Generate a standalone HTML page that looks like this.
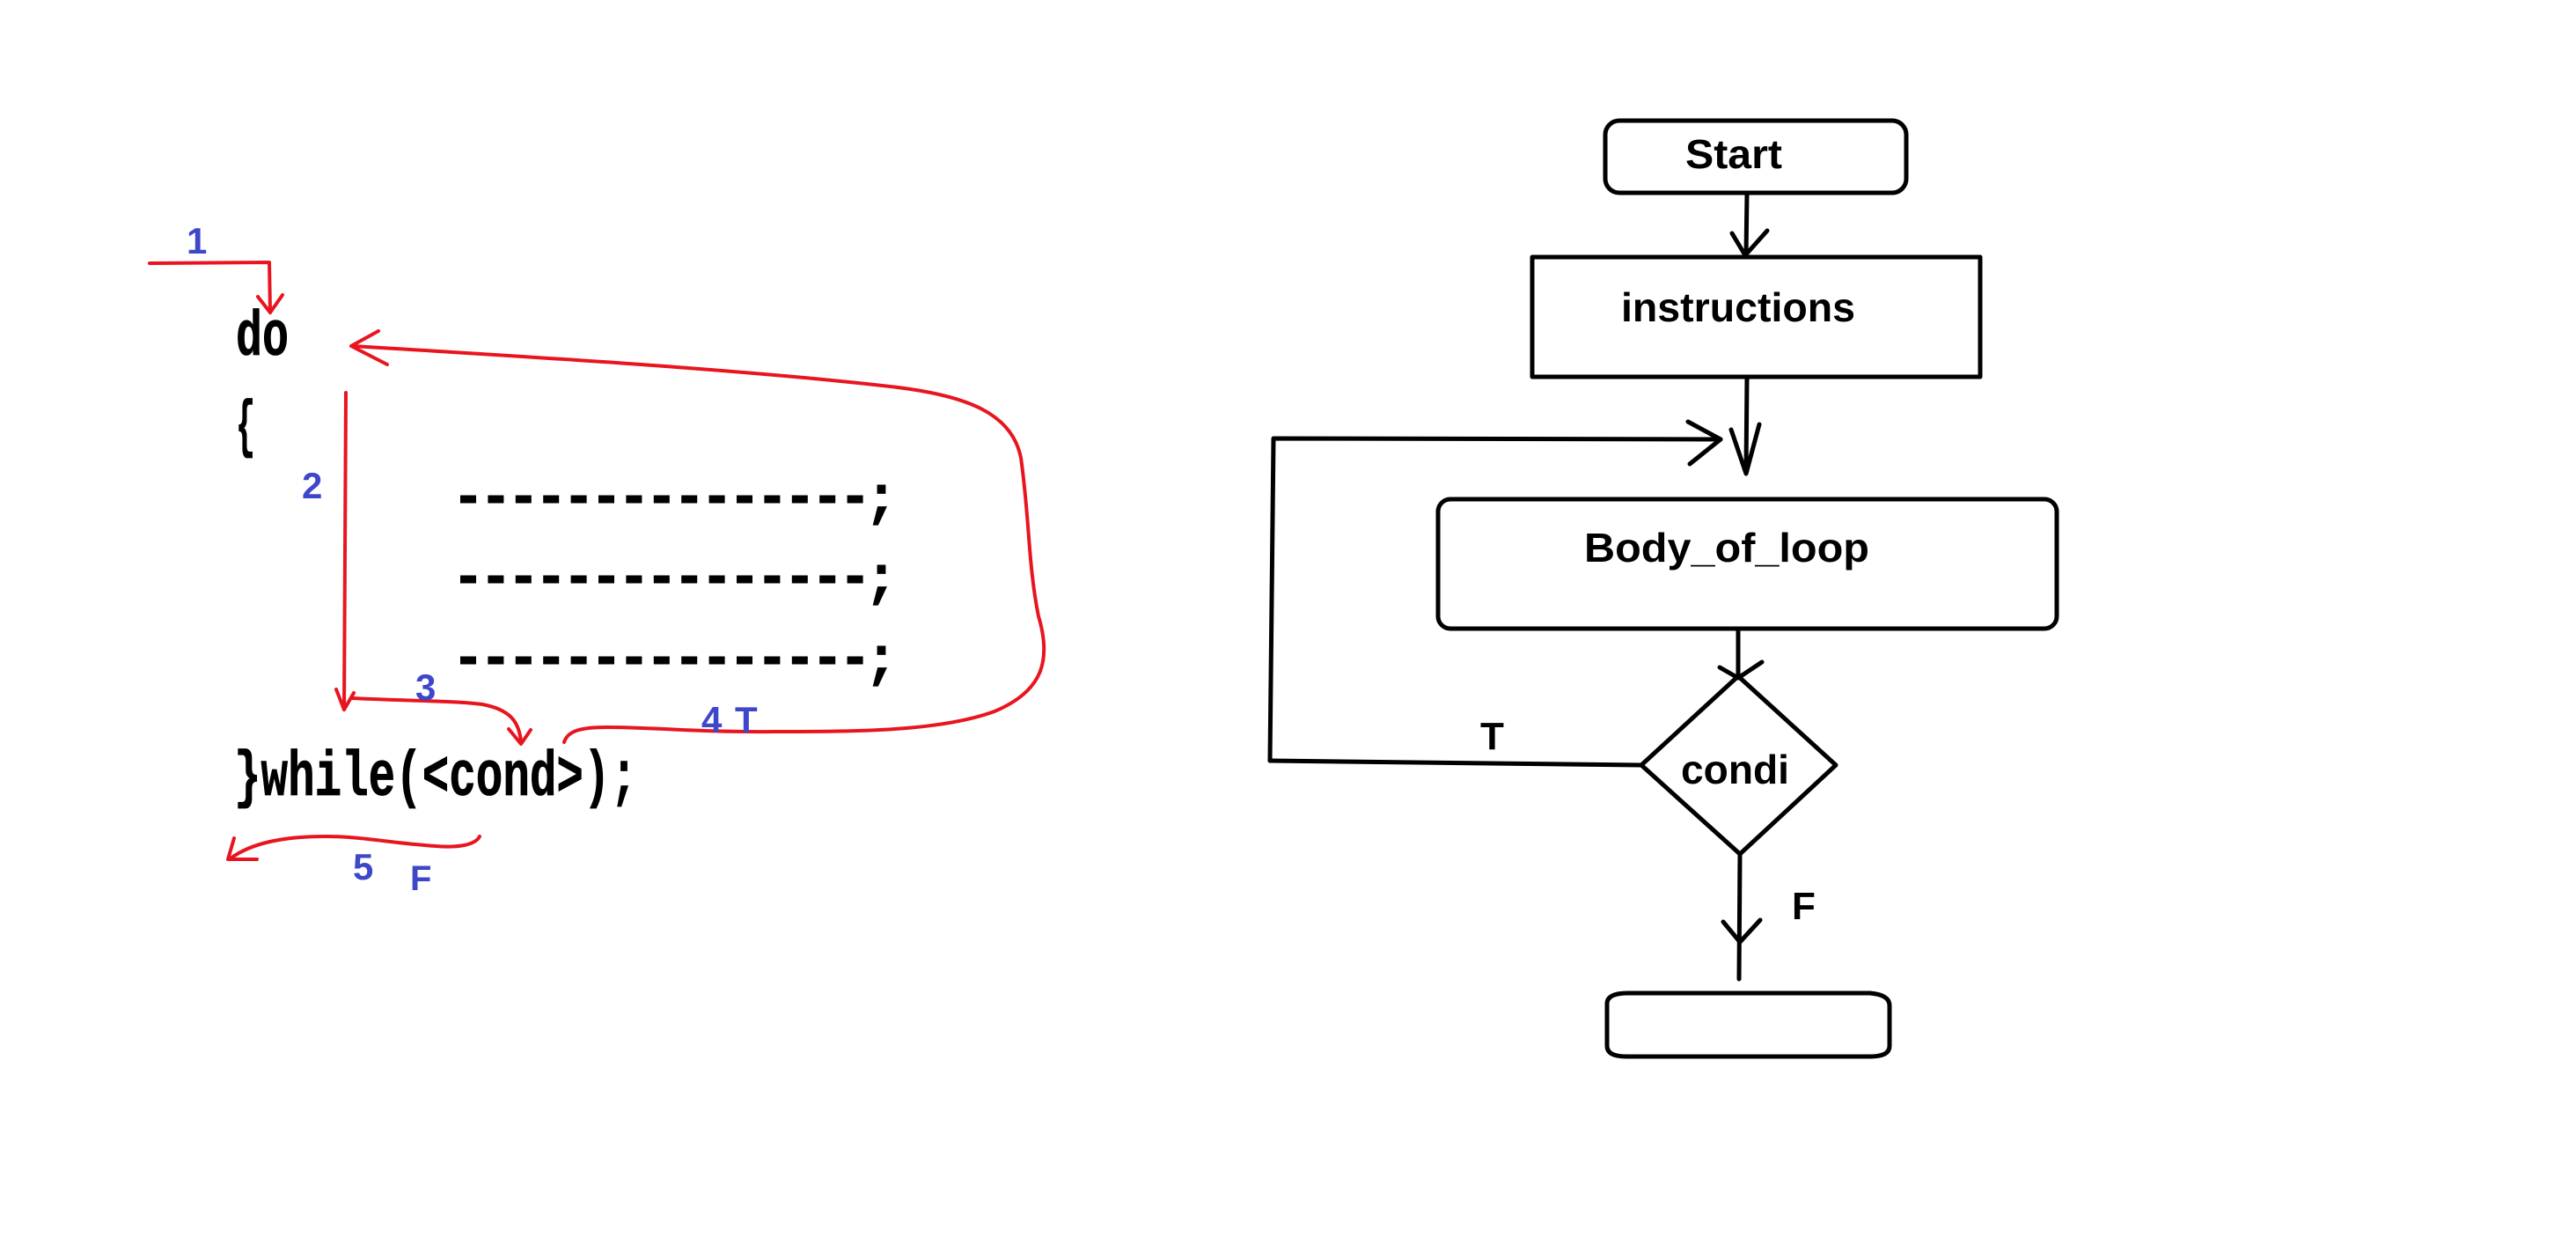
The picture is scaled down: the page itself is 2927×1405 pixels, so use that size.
<!DOCTYPE html>
<html><head><meta charset="utf-8"><style>
html,body{margin:0;padding:0;background:#fff;}
svg{display:block;}
</style></head><body>
<svg width="2927" height="1405" viewBox="0 0 2927 1405" xmlns="http://www.w3.org/2000/svg">
<rect width="2927" height="1405" fill="#fff"/>
<!-- LEFT: code -->
<g font-family="Liberation Mono, monospace" font-weight="bold" fill="#000" stroke="#000" stroke-width="0.8">
  <text x="268" y="403" font-size="72" textLength="60" lengthAdjust="spacingAndGlyphs">do</text>
  <text x="268" y="505" font-size="72" textLength="22" lengthAdjust="spacingAndGlyphs">{</text>
  <text x="266" y="903" font-size="72" textLength="458" lengthAdjust="spacingAndGlyphs">}while(&lt;cond&gt;);</text>
  <text x="982" y="585" font-size="64">;</text>
  <text x="982" y="676" font-size="64">;</text>
  <text x="982" y="768" font-size="64">;</text>
</g>
<g stroke="#000" stroke-width="9" stroke-dasharray="18 13.4">
  <line x1="523" y1="567" x2="981" y2="567"/>
  <line x1="523" y1="658" x2="981" y2="658"/>
  <line x1="523" y1="750" x2="981" y2="750"/>
</g>
<!-- red arrows -->
<g fill="none" stroke="#e8151f" stroke-width="4" stroke-linecap="round" stroke-linejoin="round">
  <path d="M170 299 L306 298 L307 355"/>
  <path d="M293 337 L307 355 L321 335"/>
  <path d="M393 446 L391 806"/>
  <path d="M382 783 L391 806 L402 787"/>
  <path d="M400 793 C460 796 520 796 548 800 C580 806 590 820 592 843"/>
  <path d="M578 828 L592 845 L603 829"/>
  <path d="M641 843 C645 830 660 826 690 826 C740 826 800 832 880 831 C980 831 1070 830 1130 808 C1185 785 1195 750 1180 700 C1168 640 1170 590 1160 520 C1150 470 1100 450 1020 440 C850 420 600 405 400 393"/>
  <path d="M430 376 L399 393 L440 414"/>
  <path d="M545 950 C540 960 520 963 495 961 C440 957 410 950 370 950 C320 950 285 958 262 975"/>
  <path d="M266 952 L259 976 L292 976"/>
</g>
<!-- blue labels -->
<g font-family="Liberation Sans, sans-serif" font-weight="bold" fill="#3e47c9">
  <text x="212" y="288" font-size="42">1</text>
  <text x="343" y="566" font-size="42">2</text>
  <text x="472" y="795" font-size="42">3</text>
  <text x="797" y="832" font-size="42">4</text>
  <text x="835" y="832" font-size="42">T</text>
  <text x="401" y="999" font-size="42">5</text>
  <text x="466" y="1011" font-size="40">F</text>
</g>
<!-- RIGHT: flowchart -->
<g fill="none" stroke="#000" stroke-width="5" stroke-linecap="round" stroke-linejoin="round">
  <rect x="1824" y="137" width="342" height="82" rx="16"/>
  <line x1="1985" y1="219" x2="1984" y2="290"/>
  <path d="M1968 265 L1983 290 L2008 262"/>
  <rect x="1741" y="292" width="509" height="136"/>
  <line x1="1985" y1="428" x2="1984" y2="535"/>
  <path d="M1967 488 L1984 538 L1999 482"/>
  <path d="M1443 864 L1447 498 L1955 499"/>
  <path d="M1918 479 L1955 499 L1920 527"/>
  <rect x="1634" y="567" width="703" height="147" rx="14"/>
  <line x1="1975" y1="714" x2="1975" y2="768"/>
  <path d="M1954 758 L1975 770 L2002 752"/>
  <path d="M1975 768 L2086 869 L1977 970 L1865 869 Z"/>
  <path d="M1443 864 L1865 869"/>
  <line x1="1977" y1="970" x2="1976" y2="1112"/>
  <path d="M1958 1047 L1977 1070 L2000 1045"/>
  <path d="M1826 1140 Q1826 1128 1850 1128 L2125 1128 Q2147 1130 2147 1142 L2147 1188 Q2147 1200 2125 1200 L1848 1200 Q1826 1200 1826 1188 Z"/>
</g>
<g font-family="Liberation Sans, sans-serif" font-weight="bold" fill="#000" font-size="46">
  <text x="1915" y="191" textLength="110" lengthAdjust="spacingAndGlyphs">Start</text>
  <text x="1842" y="365" textLength="266" lengthAdjust="spacingAndGlyphs">instructions</text>
  <text x="1800" y="638" textLength="324" lengthAdjust="spacingAndGlyphs">Body_of_loop</text>
  <text x="1910" y="890" textLength="123" lengthAdjust="spacingAndGlyphs">condi</text>
  <text x="1682" y="851" font-size="44">T</text>
  <text x="2036" y="1044" font-size="44">F</text>
</g>
</svg>
</body></html>
